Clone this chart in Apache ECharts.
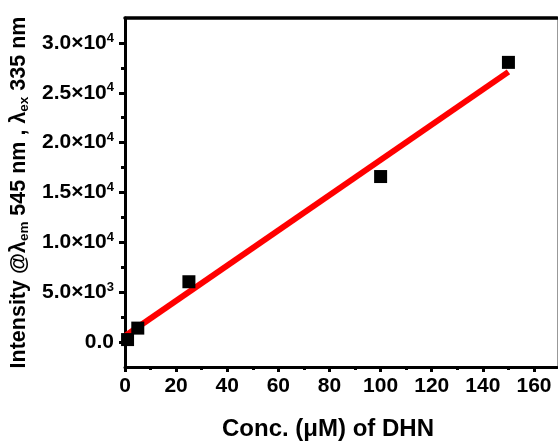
<!DOCTYPE html>
<html>
<head>
<meta charset="utf-8">
<script src="https://cdn.jsdelivr.net/npm/echarts@6/dist/echarts.min.js"></script>
<style>html,body{margin:0;padding:0;background:#fff}#c{width:558px;height:441px}</style>
</head>
<body>
<div id="c"></div>
<script>
// Data
const concentrations = [1, 5, 25, 100, 150];
const intensities = [250, 1400, 6050, 16600, 28050];
const fitX = [0, 150];
const fitY = [600, 27100];
const xTicks = [0, 20, 40, 60, 80, 100, 120, 140, 160];
const xMinorTicks = [10, 30, 50, 70, 90, 110, 130, 150];
const yTicks = [0, 5000, 10000, 15000, 20000, 25000, 30000];
const yMinorTicks = [2500, 7500, 12500, 17500, 22500, 27500];

const font = 'Arial, "Liberation Sans", sans-serif';
function yLabel(v) {
  if (v === 0) return '{b|0.0}';
  const e = Math.floor(Math.log10(v));
  const m = (v / Math.pow(10, e)).toFixed(1);
  return '{b|' + m + '×10}{s|' + e + '}';
}
const chart = echarts.init(document.getElementById('c'), null, {renderer: 'canvas'});
const X_MIN = 0, X_MAX = 169, Y_MIN = -2500, Y_MAX = 32500;
chart.setOption({
  animation: false,
  backgroundColor: '#fff',
  grid: {left: 125, right: 1, top: 18, bottom: 74, containLabel: false, outerBoundsMode: 'none'},
  xAxis: [
    {
      type: 'value', min: X_MIN, max: X_MAX, position: 'bottom',
      axisLine: {show: true, onZero: false, lineStyle: {color: '#000', width: 3}},
      axisTick: {show: true, inside: false, length: 5, customValues: xTicks, lineStyle: {color: '#000', width: 3}},
      axisLabel: {show: true, customValues: xTicks, margin: 9, color: '#000', fontFamily: font, fontWeight: 'bold', fontSize: 21},
      splitLine: {show: false},
      name: 'Conc. (μM) of DHN', nameLocation: 'middle', nameGap: 50,
      nameTextStyle: {color: '#000', fontFamily: font, fontWeight: 'bold', fontSize: 24, padding: [0, 26, 0, 0]}
    },
    {
      type: 'value', min: X_MIN, max: X_MAX, position: 'bottom',
      axisLine: {show: false, onZero: false},
      axisTick: {show: true, inside: false, length: 3, customValues: xMinorTicks, lineStyle: {color: '#000', width: 3}},
      axisLabel: {show: false}, splitLine: {show: false}
    },
    {
      type: 'value', min: X_MIN, max: X_MAX, position: 'top',
      axisLine: {show: true, onZero: false, lineStyle: {color: '#000', width: 3.5}},
      axisTick: {show: false}, axisLabel: {show: false}, splitLine: {show: false}
    }
  ],
  yAxis: [
    {
      type: 'value', min: Y_MIN, max: Y_MAX, position: 'left',
      axisLine: {show: true, onZero: false, lineStyle: {color: '#000', width: 3}},
      axisTick: {show: true, inside: false, length: 6, customValues: yTicks, lineStyle: {color: '#000', width: 3}},
      axisLabel: {
        show: true, customValues: yTicks, margin: 11, formatter: yLabel,
        rich: {
          b: {color: '#000', fontFamily: font, fontWeight: 'bold', fontSize: 21},
          s: {color: '#000', fontFamily: font, fontWeight: 'bold', fontSize: 13, padding: [0, 0, 10, 0]}
        }
      },
      splitLine: {show: false},
      name: '{a|Intensity @λ}{sub|em}{a| 545 nm , λ}{sub|ex}{a| 335 nm}',
      nameLocation: 'middle', nameGap: 89, nameRotate: 90,
      nameTextStyle: {
        rich: {
          a: {color: '#000', fontFamily: font, fontWeight: 'bold', fontSize: 21.5},
          sub: {color: '#000', fontFamily: font, fontWeight: 'bold', fontSize: 13.5, padding: [10, 0, 0, 0]}
        }
      }
    },
    {
      type: 'value', min: Y_MIN, max: Y_MAX, position: 'left',
      axisLine: {show: false, onZero: false},
      axisTick: {show: true, inside: false, length: 4, customValues: yMinorTicks, lineStyle: {color: '#000', width: 3}},
      axisLabel: {show: false}, splitLine: {show: false}
    },
    {
      type: 'value', min: Y_MIN, max: Y_MAX, position: 'right',
      axisLine: {show: true, onZero: false, lineStyle: {color: '#999', width: 1}},
      axisTick: {show: false}, axisLabel: {show: false}, splitLine: {show: false}
    }
  ],
  series: [
    {
      type: 'line', xAxisIndex: 0, yAxisIndex: 0,
      data: fitX.map((x, i) => [x, fitY[i]]),
      showSymbol: false, symbol: 'none',
      lineStyle: {color: '#ff0000', width: 6}, z: 2
    },
    {
      type: 'scatter', xAxisIndex: 0, yAxisIndex: 0,
      data: concentrations.map((x, i) => [x, intensities[i]]),
      symbol: 'rect', symbolSize: 13,
      itemStyle: {color: '#000', opacity: 1}, z: 3
    }
  ]
});
</script>
</body>
</html>
